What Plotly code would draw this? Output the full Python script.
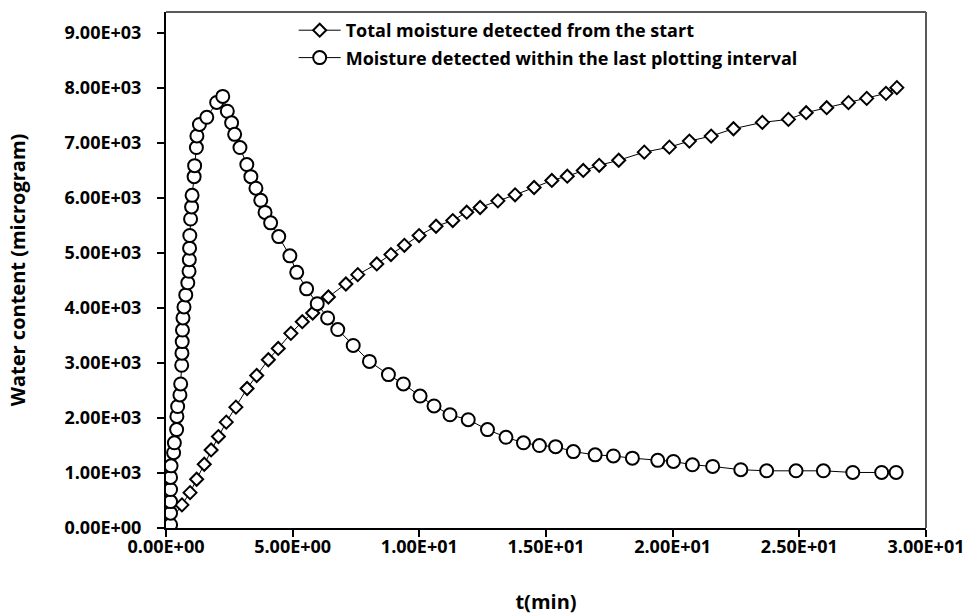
import plotly.graph_objects as go

# Total moisture detected from the start
t_total = [0.0, 0.63, 0.95, 1.21, 1.51, 1.78, 2.07, 2.38, 2.76, 3.20, 3.58, 4.04,
           4.43, 4.93, 5.38, 5.79, 6.41, 7.10, 7.57, 8.32, 8.88, 9.41, 9.99, 10.66,
           11.32, 11.87, 12.40, 13.10, 13.78, 14.53, 15.23, 15.84, 16.47, 17.10,
           17.87, 18.88, 19.87, 20.66, 21.52, 22.40, 23.54, 24.57, 25.27, 26.08,
           26.94, 27.66, 28.42, 28.85]
w_total = [0, 420, 643, 887, 1160, 1420, 1663, 1925, 2198, 2537, 2774, 3060,
           3266, 3540, 3752, 3910, 4202, 4438, 4608, 4803, 4973, 5142, 5319, 5488,
           5592, 5744, 5829, 5950, 6060, 6193, 6321, 6399, 6503, 6597,
           6688, 6836, 6927, 7037, 7128, 7262, 7377, 7432, 7554, 7645,
           7736, 7814, 7905, 8009]

# Moisture detected within the last plotting interval
t_interval = [0.18, 0.18, 0.18, 0.18, 0.18, 0.20, 0.30, 0.33, 0.42, 0.43, 0.46,
              0.55, 0.58, 0.62, 0.63, 0.64, 0.65, 0.67, 0.71, 0.78, 0.86, 0.91,
              0.92, 0.93, 0.94, 0.97, 1.01, 1.03, 1.11, 1.13, 1.20, 1.22, 1.32,
              1.61, 2.00, 2.24, 2.42, 2.59, 2.71, 2.92, 3.19, 3.35, 3.55, 3.74,
              3.91, 4.13, 4.45, 4.89, 5.16, 5.55, 5.97, 6.38, 6.78, 7.39, 8.03,
              8.78, 9.37, 10.03, 10.58, 11.21, 11.93, 12.69, 13.42, 14.11, 14.74,
              15.38, 16.08, 16.94, 17.66, 18.41, 19.41, 20.03, 20.78, 21.58,
              22.69, 23.71, 24.87, 25.95, 27.11, 28.25, 28.82]
w_interval = [60, 270, 480, 700, 920, 1130, 1370, 1550, 1790, 2030, 2210,
              2420, 2620, 2960, 3180, 3390, 3600, 3820, 4020, 4240, 4460, 4670,
              4880, 5090, 5320, 5620, 5840, 6050, 6390, 6590, 6920, 7130, 7340,
              7470, 7740, 7850, 7580, 7370, 7160, 6920, 6610, 6390, 6180, 5960,
              5740, 5550, 5300, 4950, 4650, 4350, 4080, 3820, 3610, 3320, 3030,
              2790, 2620, 2400, 2220, 2060, 1970, 1790, 1650, 1550, 1500,
              1480, 1390, 1330, 1310, 1270, 1230, 1210, 1150, 1120,
              1060, 1040, 1040, 1040, 1010, 1010, 1010]

x_ticks = [0, 5, 10, 15, 20, 25, 30]
x_labels = ["0.00E+00", "5.00E+00", "1.00E+01", "1.50E+01", "2.00E+01",
            "2.50E+01", "3.00E+01"]
y_ticks = [0, 1000, 2000, 3000, 4000, 5000, 6000, 7000, 8000, 9000]
y_labels = ["0.00E+00", "1.00E+03", "2.00E+03", "3.00E+03", "4.00E+03",
            "5.00E+03", "6.00E+03", "7.00E+03", "8.00E+03", "9.00E+03"]

FONT = "'Open Sans', sans-serif"

fig = go.Figure()
fig.add_trace(go.Scatter(
    x=t_total, y=w_total, mode="lines+markers",
    name="<b>Total moisture detected from the start</b>",
    line=dict(color="black", width=1),
    marker=dict(symbol="diamond", size=10, color="white",
                line=dict(color="black", width=2)),
    legendgroup="a",
))
fig.add_trace(go.Scatter(
    x=t_interval, y=w_interval, mode="lines+markers",
    name="<b>Moisture detected within the last plotting interval</b>",
    line=dict(color="black", width=1),
    marker=dict(symbol="circle", size=13, color="white",
                line=dict(color="black", width=2)),
    legendgroup="b",
))

# thin frame on top and right of the plotting area
fig.add_shape(type="line", xref="paper", yref="paper", x0=0, x1=1, y0=1, y1=1,
              line=dict(color="#595959", width=2), layer="below")
fig.add_shape(type="line", xref="paper", yref="paper", x0=1, x1=1, y0=0, y1=1,
              line=dict(color="#595959", width=2), layer="below")

fig.update_layout(
    width=966, height=615,
    margin=dict(l=166, r=40, t=12, b=87),
    paper_bgcolor="white", plot_bgcolor="white",
    font=dict(family=FONT, color="black", size=18),
    showlegend=True,
    legend=dict(x=0.168, y=1.0, xanchor="left", yanchor="top",
                bgcolor="rgba(0,0,0,0)", tracegroupgap=1, itemwidth=42,
                font=dict(family=FONT, size=18, color="black")),
    xaxis=dict(range=[0, 30], tickmode="array", tickvals=x_ticks,
               ticktext=["<b>%s</b>" % s for s in x_labels],
               showgrid=False, zeroline=False, showline=True, automargin=False,
               linecolor="black", linewidth=2, ticks="outside", ticklen=7,
               tickwidth=2, tickcolor="black", ticklabelstandoff=-6,
               tickfont=dict(family=FONT, size=18),
               title=dict(text="<b>t(min)</b>", standoff=48,
                          font=dict(family=FONT, size=20))),
    yaxis=dict(range=[0, 9385], tickmode="array", tickvals=y_ticks,
               ticktext=["<b>%s</b>" % s for s in y_labels],
               showgrid=False, zeroline=False, showline=True, automargin=False,
               linecolor="black", linewidth=2, ticks="outside", ticklen=7,
               tickwidth=2, tickcolor="black", ticklabelstandoff=12,
               tickfont=dict(family=FONT, size=18),
               title=dict(text="<b>Water content (microgram)</b>", standoff=33,
                          font=dict(family=FONT, size=20))),
)

fig.write_html("out.html")
